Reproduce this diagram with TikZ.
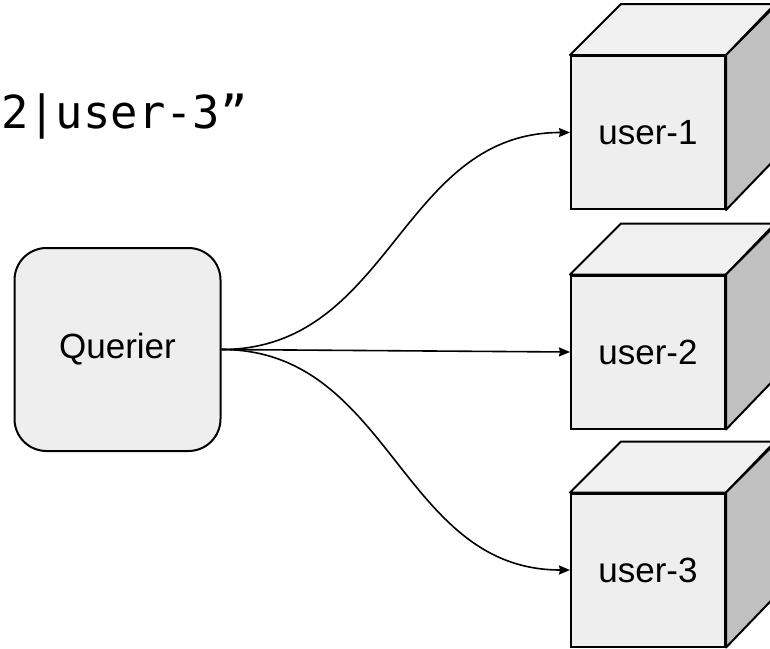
\documentclass[tikz,border=0pt]{standalone}
\usepackage{fontspec}
\setmainfont{Liberation Sans}
\newfontfamily\codefont{DejaVu Sans Mono}
\usetikzlibrary{arrows.meta}
\definecolor{boxfill}{HTML}{EEEEEE}
\definecolor{topfill}{HTML}{F0F0F0}
\definecolor{sidefill}{HTML}{C0C0C0}
\tikzset{
  querier/.style={draw, line width=2pt, fill=boxfill, rounded corners=32pt,
    minimum width=206pt, minimum height=203pt, inner sep=0pt,
    font=\fontsize{35}{40}\selectfont},
  cubefront/.style={draw, line width=2pt, fill=boxfill, minimum width=154pt,
    minimum height=153pt, inner sep=0pt, font=\fontsize{35}{40}\selectfont},
  topface/.style={draw, line width=2pt, line join=round, fill=topfill},
  sideface/.style={draw, line width=2pt, line join=round, fill=sidefill},
  link/.style={line width=1.6pt, -{Stealth[length=11pt,width=9pt,inset=1pt]}},
  codetext/.style={inner sep=0pt, anchor=base west, font=\codefont\fontsize{45.5}{50}\selectfont}
}
\begin{document}
\begin{tikzpicture}[x=1pt,y=-1pt]
\useasboundingbox (0,0) rectangle (770,648);
% partial label at top
\node[codetext] (lbl) at (1,128) {2|user-3”};
% querier
\node[querier] (Q) at (117.5,349.5) {Querier};
% cubes
\foreach \n/\cy in {1/132.5, 2/352, 3/570} {
  \node[cubefront] (u\n) at (648,\cy) {user-\n};
  \draw[topface] (u\n.north west) -- ++(51,-51) -- ++(154,0) -- (u\n.north east) -- cycle;
  \draw[sideface] (u\n.north east) -- ++(51,-51) -- ++(0,153) -- (u\n.south east) -- cycle;
}
% connectors
\draw[link] (Q.east) .. controls +(170,0) and +(-170,0) .. (u1.west);
\draw[link] (Q.east) -- (u2.west);
\draw[link] (Q.east) .. controls +(170,0) and +(-170,0) .. (u3.west);
\end{tikzpicture}
\end{document}
